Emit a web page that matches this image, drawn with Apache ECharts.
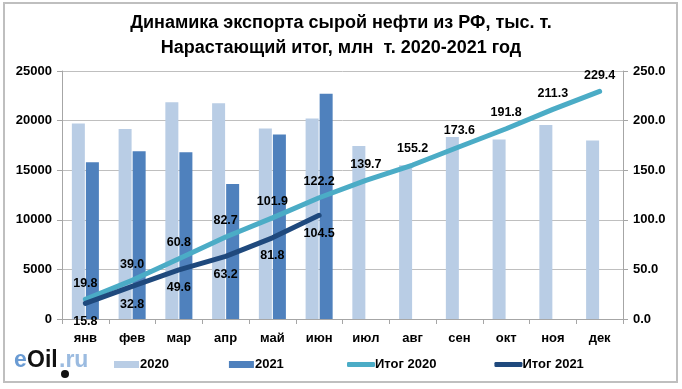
<!DOCTYPE html>
<html><head><meta charset="utf-8">
<script src="https://cdn.jsdelivr.net/npm/echarts@6/dist/echarts.min.js"></script>
<style>html,body{margin:0;padding:0;background:#fff}#c{width:682px;height:389px}</style>
</head><body><div id="c"></div>
<script>
const months = ['янв','фев','мар','апр','май','июн','июл','авг','сен','окт','ноя','дек'];
const exp2020 = [19700,19150,21850,21750,19200,20200,17450,15500,18350,18100,19550,18000];
const exp2021 = [15800,16900,16800,13600,18600,22700];
const cum2020 = [19.8,39.0,60.8,82.7,101.9,122.2,139.7,155.2,173.6,191.8,211.3,229.4];
const cum2021 = [15.8,32.8,49.6,63.2,81.8,104.5];
const leftTicks = {min:0,max:25000,interval:5000};
const rightTicks = {min:0,max:250,interval:50};

const F = 'Liberation Sans, Arial, sans-serif';
const lbl = {fontFamily:F,fontWeight:'bold',fontSize:13,color:'#000'};
const dlbl = {fontFamily:F,fontWeight:'bold',fontSize:12.5,color:'#000'};
const chart = echarts.init(document.getElementById('c'));
chart.setOption({
  backgroundColor:'#fff',
  animation:false,
  title:{text:'Динамика экспорта сырой нефти из РФ, тыс. т.\nНарастающий итог, млн  т. 2020-2021 год',left:'center',top:6,
    textStyle:{fontFamily:F,fontWeight:'bold',fontSize:18,lineHeight:25,color:'#000'}},
  grid:{left:62,right:59,top:71,bottom:70},
  legend:[{
    data:['2020','2021'],left:114,top:358,padding:0,itemWidth:25,itemHeight:7,itemGap:60,icon:'rect',
    textStyle:{fontFamily:F,fontWeight:'bold',fontSize:13,color:'#000',padding:[0,0,0,-4]}
  },{
    data:['Итог 2020','Итог 2021'],left:347,top:358,padding:0,itemWidth:28,itemHeight:5,itemGap:58,icon:'roundRect',
    textStyle:{fontFamily:F,fontWeight:'bold',fontSize:13,color:'#000',padding:[0,0,0,-5]}
  }],
  xAxis:{type:'category',data:months,
    axisLine:{lineStyle:{color:'#A6A6A6'}},
    axisTick:{show:true,length:5,lineStyle:{color:'#A6A6A6'}},
    axisLabel:Object.assign({margin:13},lbl)},
  yAxis:[{type:'value',min:leftTicks.min,max:leftTicks.max,interval:leftTicks.interval,
    axisLine:{show:true,lineStyle:{color:'#A6A6A6'}},
    axisTick:{show:true,length:5,lineStyle:{color:'#A6A6A6'}},
    splitLine:{lineStyle:{color:'#BFBFBF'}},
    axisLabel:Object.assign({margin:10,formatter:v=>String(v)},lbl)},
   {type:'value',min:rightTicks.min,max:rightTicks.max,interval:rightTicks.interval,position:'right',
    axisLine:{show:true,lineStyle:{color:'#A6A6A6'}},
    axisTick:{show:true,length:5,lineStyle:{color:'#A6A6A6'}},
    splitLine:{show:false},
    axisLabel:Object.assign({margin:10,formatter:v=>v.toFixed(1)},lbl)}],
  series:[
    {name:'2020',type:'bar',data:exp2020,barWidth:13,barGap:'8%',itemStyle:{color:'#B9CDE5'}},
    {name:'2021',type:'bar',data:exp2021,barWidth:13,itemStyle:{color:'#4F81BD'}},
    {name:'Итог 2020',type:'line',yAxisIndex:1,data:cum2020,symbol:'circle',symbolSize:1,showSymbol:true,
      lineStyle:{color:'#4BACC6',width:5,cap:'round'},itemStyle:{color:'#4BACC6'},
      label:Object.assign({show:true,position:'top',distance:9,formatter:p=>p.value.toFixed(1)},dlbl)},
    {name:'Итог 2021',type:'line',yAxisIndex:1,data:cum2021,symbol:'circle',symbolSize:1,showSymbol:true,
      lineStyle:{color:'#1F497D',width:5,cap:'round'},itemStyle:{color:'#1F497D'},
      label:Object.assign({show:true,position:'bottom',distance:11,formatter:p=>p.value.toFixed(1)},dlbl)}
  ],
  graphic:[
    {type:'rect',shape:{x:4,y:3,width:673,height:379},style:{fill:'none',stroke:'#BFBFBF',lineWidth:2},z:-1},
    {type:'text',left:14,top:349,style:{text:'e',fill:'#6A9BD3',font:'bold 23px '+F}},
    {type:'text',left:27,top:349,style:{text:'Oil',fill:'#111',font:'bold 23px '+F}},
    {type:'text',left:59,top:349,style:{text:'.ru',fill:'#9BBBE0',font:'bold 23px '+F}},
    {type:'circle',shape:{cx:65,cy:374,r:4},style:{fill:'#111'}}
  ]
});
</script></body></html>
